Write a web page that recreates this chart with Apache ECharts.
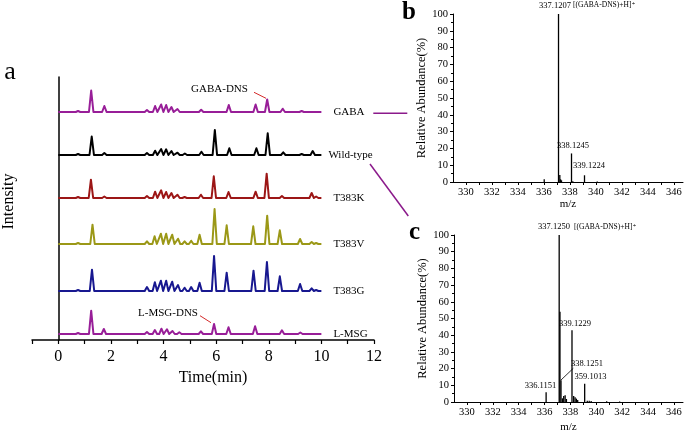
<!DOCTYPE html>
<html>
<head>
<meta charset="utf-8">
<script src="https://cdn.jsdelivr.net/npm/echarts@6/dist/echarts.min.js"></script>
<style>
html,body{margin:0;padding:0;background:#fff;}
#main{width:685px;height:434px;}
</style>
</head>
<body>
<div id="main"></div>
<script>
// chromatogram peaks: [time(min), height]
var gabaPeaks = [[0.75,1],[1.25,21.5],[1.75,6],[3.37,2],[3.68,6],[3.91,7.5],[4.1,7],[4.3,5],[4.53,3],[5.43,2.3],[6.48,7],[7.5,7.5],[7.94,12.5],[8.53,3.3],[9.25,1]];
var wildPeaks = [[0.75,1],[1.27,18.5],[1.75,2],[3.37,2],[3.68,4.3],[3.91,6],[4.1,5.7],[4.3,4],[4.53,2.3],[4.81,1.5],[5.44,3.3],[5.95,25],[6.5,6.7],[7.53,6.7],[7.96,21.7],[8.55,2.7],[9.25,1],[9.67,4]];
var t383kPeaks = [[0.75,1],[1.24,18.3],[1.75,1.5],[3.37,2],[3.68,6.3],[3.91,7.7],[4.1,6],[4.3,5],[4.53,3.3],[4.8,1],[5.42,3.3],[5.91,21.7],[6.47,6],[7.5,6.3],[7.92,24.3],[8.5,2],[9.63,5],[9.8,1.5]];
var t383vPeaks = [[0.75,1],[1.3,19.3],[3.37,2.7],[3.66,7.7],[3.9,10.3],[4.1,10.3],[4.33,9.3],[4.55,5.3],[4.8,2.7],[5.05,3.3],[5.37,9.3],[5.94,35],[6.4,18.7],[7.41,17.7],[7.94,28.3],[8.42,13.7],[9.19,5],[9.63,2],[9.8,1]];
var t383gPeaks = [[0.75,1],[1.28,21.3],[3.37,4],[3.67,8.7],[3.9,10.3],[4.1,10.3],[4.33,9.3],[4.55,6],[4.8,3.3],[5.05,4],[5.37,8.3],[5.92,35],[6.4,18.3],[7.42,20.3],[7.93,29],[8.42,14.7],[9.19,7],[9.63,2.7],[9.8,1]];
var lmsgPeaks = [[0.75,1],[1.25,23.3],[1.73,5],[3.37,2],[3.67,4],[3.92,5.3],[4.13,4.7],[4.34,3],[4.6,1.7],[5.42,2.7],[5.92,10],[6.47,6.7],[7.48,7.7],[8.5,3.7],[9.2,1.5]];

var traceNames = ['GABA','Wild-type','T383K','T383V','T383G','L-MSG'];
var tracePeaks = [gabaPeaks, wildPeaks, t383kPeaks, t383vPeaks, t383gPeaks, lmsgPeaks];
var traceOffset = [228, 185, 142, 96, 49, 6];   // stacked baselines
var runEnd = 10;

// mass spectra b and c
var bMz    = [336.02, 337.12, 337.22, 337.28, 337.35, 338.12, 338.22, 339.12, 340.1];
var bAbund = [1.6, 100, 4.2, 1.6, 1, 17, 0.5, 4, 0.3];
var cMz    = [336.12, 337.13, 337.19, 337.27, 337.38, 337.48, 337.59, 337.69, 338.12, 338.25, 338.36, 338.46, 338.56, 339.1, 339.3, 339.45, 339.6, 340.8, 341.8];
var cAbund = [5.8, 100, 54, 13, 2.2, 3.6, 4, 1.8, 43, 3.6, 2.8, 2, 1.2, 11, 0.8, 0.8, 0.6, 0.5, 0.3];

var mzTicks = [330,331,332,333,334,335,336,337,338,339,340,341,342,343,344,345,346];
var mzLabels = [330,332,334,336,338,340,342,344,346];

var colors = ['#981e98','#000000','#9c1616','#9b9817','#181890','#981e98'];
var serif = '"Liberation Serif","Times New Roman","DejaVu Serif",serif';
var halfW = 0.085;

function traceData(peaks, base){
	var d = [[0, base]];
	for(var i=0;i<peaks.length;i++){
		var t = peaks[i][0], h = peaks[i][1];
		d.push([t-halfW, base]);
		d.push([t, base+h]);
		d.push([t+halfW, base]);
	}
	d.push([runEnd, base]);
	return d;
}

function pairs(xs, ys){
	var d = [];
	for(var i=0;i<xs.length;i++){ d.push([xs[i], ys[i]]); }
	return d;
}

var series = [];
for(var k=0;k<traceNames.length;k++){
	series.push({
		name: traceNames[k],
		type: 'line',
		xAxisIndex: 0,
		yAxisIndex: 0,
		symbol: 'none',
		data: traceData(tracePeaks[k], traceOffset[k]),
		lineStyle: {color: colors[k], width: 2, join: 'round'},
		endLabel: {
			show: true,
			formatter: '{a}',
			distance: k == 1 ? 7 : 12,
			color: '#000',
			fontSize: 11,
			fontFamily: serif
		}
	});
}
series.push({
	type: 'bar', xAxisIndex: 1, yAxisIndex: 1,
	data: pairs(bMz, bAbund), barWidth: 1.3,
	itemStyle: {color: '#000'}
});
series.push({
	type: 'bar', xAxisIndex: 2, yAxisIndex: 2,
	data: pairs(cMz, cAbund), barWidth: 1.3,
	itemStyle: {color: '#000'}
});

function mzAxis(grid, gap){
	return {
		type: 'value', gridIndex: grid, min: 329, max: 346.7,
		name: 'm/z', nameLocation: 'middle', nameGap: gap,
		nameTextStyle: {fontFamily: serif, fontSize: 11, color: '#000'},
		axisLine: {lineStyle: {color: '#000', width: 1}},
		axisTick: {show: true, length: 3, customValues: mzTicks, lineStyle: {color: '#000'}},
		axisLabel: {customValues: mzLabels, fontFamily: serif, fontSize: 10.5, color: '#000', margin: 5},
		splitLine: {show: false}
	};
}
function abundAxis(grid, gap){
	return {
		type: 'value', gridIndex: grid, min: 0, max: 100, interval: 10,
		name: 'Relative Abundance(%)', nameLocation: 'middle', nameGap: gap,
		nameTextStyle: {fontFamily: serif, fontSize: 12.5, color: '#000'},
		axisLine: {show: true, lineStyle: {color: '#000', width: 1}},
		axisTick: {show: true, length: 3, lineStyle: {color: '#000'}},
		minorTick: {show: true, splitNumber: 2, length: 2, lineStyle: {color: '#000'}},
		axisLabel: {fontFamily: serif, fontSize: 10.5, color: '#000', margin: 5},
		splitLine: {show: false}
	};
}

function txt(s, x, y, size, align, color, weight){
	return {
		type: 'text', x: x, y: y,
		style: {
			text: s, fill: color || '#000',
			font: (weight || 'normal') + ' ' + size + 'px ' + serif,
			textAlign: align || 'center', align: align || 'center',
			textVerticalAlign: 'middle', verticalAlign: 'middle'
		}
	};
}
function seg(x1, y1, x2, y2, color, w){
	return {type: 'line', shape: {x1: x1, y1: y1, x2: x2, y2: y2}, style: {stroke: color, lineWidth: w || 1}};
}

var chart = echarts.init(document.getElementById('main'));
var option = {
	animation: false,
	backgroundColor: '#fff',
	grid: [
		{left: 32, top: 77, width: 342, height: 263},
		{left: 453, top: 14, width: 230, height: 168},
		{left: 454, top: 235, width: 229, height: 167}
	],
	xAxis: [
		{
			type: 'value', gridIndex: 0, min: -1, max: 12, interval: 1,
			name: 'Time(min)', nameLocation: 'middle', nameGap: 30,
			nameTextStyle: {fontFamily: serif, fontSize: 16, color: '#000', padding: [0,0,0,20]},
			axisLine: {onZero: false, lineStyle: {color: '#000', width: 1.5}},
			axisTick: {show: true, length: 4, lineStyle: {color: '#000', width: 1.2}},
			axisLabel: {
				fontFamily: serif, fontSize: 16, color: '#000', margin: 9,
				formatter: function(v){ return (v >= 0 && v % 2 == 0) ? String(v) : ''; }
			},
			splitLine: {show: false}
		},
		mzAxis(1, 14),
		mzAxis(2, 20)
	],
	yAxis: [
		{
			type: 'value', gridIndex: 0, min: 0, max: 263,
			name: 'Intensity', nameLocation: 'middle', nameGap: 15,
			nameTextStyle: {fontFamily: serif, fontSize: 16, color: '#000', padding: [0,0,0,14]},
			axisLine: {show: true, lineStyle: {color: '#000', width: 1.5}},
			axisTick: {show: false}, axisLabel: {show: false}, splitLine: {show: false}
		},
		abundAxis(1, 24),
		abundAxis(2, 21)
	],
	series: series,
	graphic: [
		txt('a', 10, 72, 26, 'center'),
		txt('b', 402, 13, 25, 'left', '#000', 'bold'),
		txt('c', 409, 233, 25, 'left', '#000', 'bold'),
		txt('GABA-DNS', 219.5, 89, 11),
		seg(254, 92.3, 266, 98.3, '#d42a2a', 1),
		txt('L-MSG-DNS', 168, 313.5, 11),
		seg(200, 315.7, 211, 322.7, '#d42a2a', 1),
		seg(373.3, 113.3, 407.3, 113.3, '#8b1a8b', 1.5),
		seg(370, 164, 408.3, 216, '#8b1a8b', 1.5),
		txt('337.1207', 555, 5.5, 8.5),
		txt('[(GABA-DNS)+H]\u207A', 573, 5.5, 7.5, 'left'),
		txt('338.1245', 573, 145.8, 8.5),
		txt('339.1224', 589, 166, 8.5),
		txt('337.1250', 554, 227, 8.5),
		txt('[(GABA-DNS)+H]\u207A', 574, 227, 7.5, 'left'),
		txt('339.1229', 575, 324, 8.5),
		txt('338.1251', 587, 363.7, 8.5),
		seg(573.3, 368.3, 561, 380, '#000', 0.8),
		txt('359.1013', 590.5, 376.7, 8.5),
		txt('336.1151', 540.5, 386, 8.5)
	]
};
chart.setOption(option);
</script>
</body>
</html>
